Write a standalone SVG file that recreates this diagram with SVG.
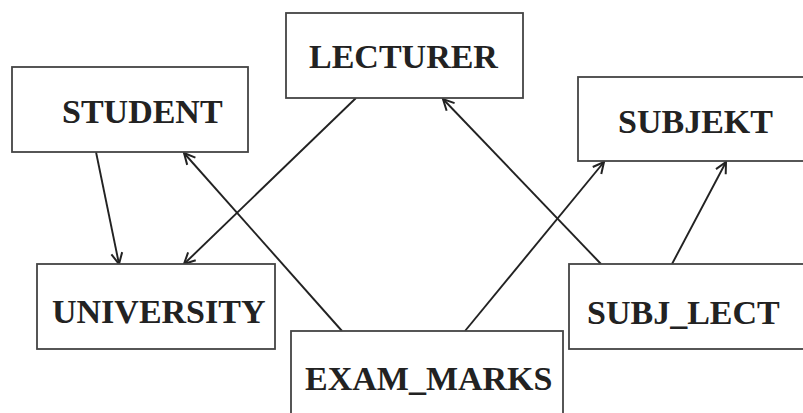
<svg xmlns="http://www.w3.org/2000/svg" width="803" height="413" viewBox="0 0 803 413">
<style>
.box{fill:#fff;stroke:#444;stroke-width:1.8}
.lbl{font-family:"Liberation Serif","Times New Roman",serif;font-weight:bold;font-size:34px;fill:#222}
.edge{stroke:#222;stroke-width:1.9;fill:none;marker-end:url(#arr)}
</style>
<defs>
<marker id="arr" markerUnits="userSpaceOnUse" markerWidth="14" markerHeight="14" viewBox="-1 -7 13 14" refX="11" refY="0" orient="auto">
<path d="M0,-5.5 L11,0 L0,5.5" fill="none" stroke="#222" stroke-width="2"/>
</marker>
</defs>
<rect width="803" height="413" fill="#fff"/>
<g id="connectors">
<line class="edge" x1="96" y1="152" x2="119" y2="264"/>
<line class="edge" x1="356" y1="98" x2="184" y2="264"/>
<line class="edge" x1="342" y1="331" x2="184" y2="153"/>
<line class="edge" x1="465" y1="331" x2="604" y2="162"/>
<line class="edge" x1="601" y1="264" x2="443" y2="99"/>
<line class="edge" x1="672" y1="264" x2="726" y2="162"/>
</g>
<g id="student"><rect class="box" x="12" y="67" width="236" height="85"/><text class="lbl" x="62" y="123">STUDENT</text></g>
<g id="lecturer"><rect class="box" x="286" y="13" width="237" height="85"/><text class="lbl" x="309" y="68">LECTURER</text></g>
<g id="subjekt"><rect class="box" x="578" y="77" width="235" height="84"/><text class="lbl" x="618" y="133">SUBJEKT</text></g>
<g id="university"><rect class="box" x="37" y="264" width="238" height="85"/><text class="lbl" x="52" y="323">UNIVERSITY</text></g>
<g id="exam_marks"><rect class="box" x="291" y="331" width="272" height="92"/><text class="lbl" x="305" y="390">EXAM_MARKS</text></g>
<g id="subj_lect"><rect class="box" x="569" y="264" width="244" height="85"/><text class="lbl" x="587" y="324">SUBJ_LECT</text></g>
</svg>
